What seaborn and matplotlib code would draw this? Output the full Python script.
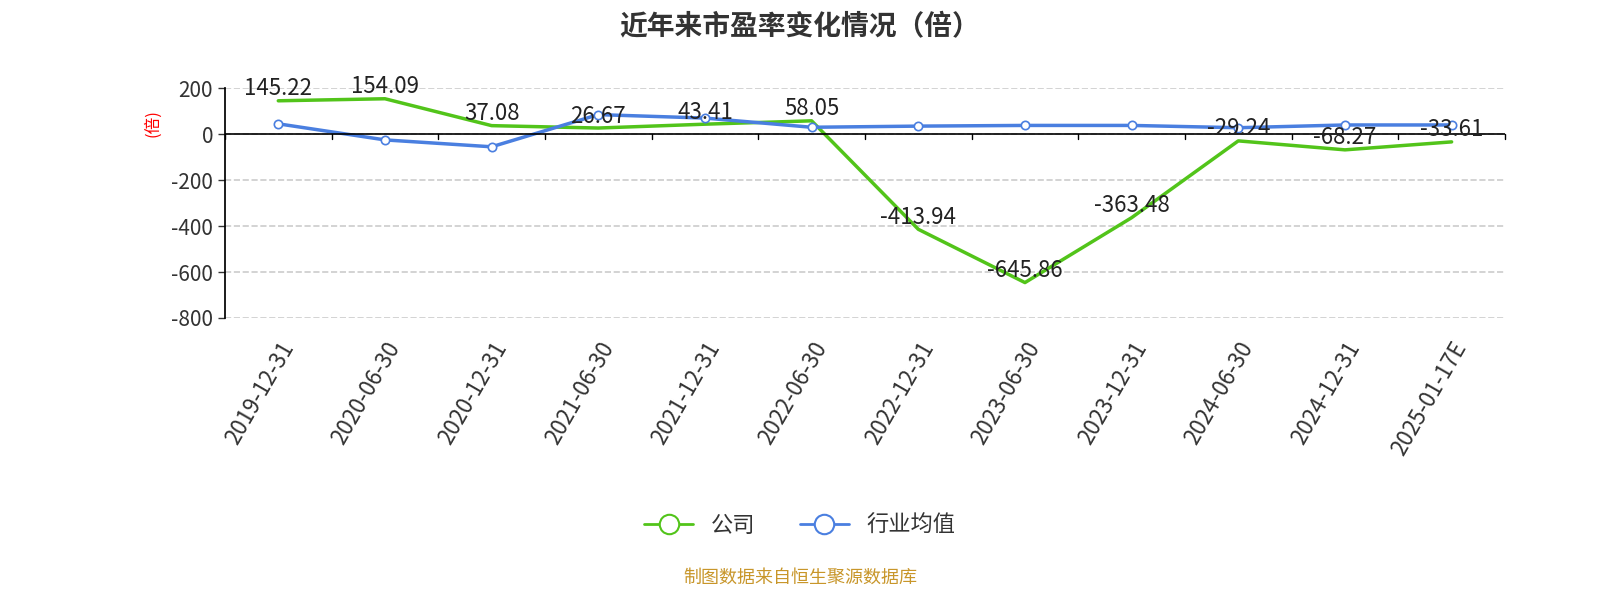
import matplotlib.pyplot as plt
import seaborn as sns
import pandas as pd

dates = ['2019-12-31', '2020-06-30', '2020-12-31', '2021-06-30', '2021-12-31', '2022-06-30',
         '2022-12-31', '2023-06-30', '2023-12-31', '2024-06-30', '2024-12-31', '2025-01-17E']
company = [145.22, 154.09, 37.08, 26.67, 43.41, 58.05, -413.94, -645.86, -363.48, -29.24, -68.27, -33.61]
industry = [45, -25, -55, 85, 70, 30, 35, 38, 38, 28, 40, 40]

sns.set_theme(style='white')
plt.rcParams['font.family'] = ['Noto Sans CJK SC', 'DejaVu Sans']
plt.rcParams['axes.unicode_minus'] = False

df = pd.DataFrame({'x': range(len(dates)), '公司': company, '行业均值': industry})

fig = plt.figure(figsize=(16, 6), dpi=100)
ax = fig.add_axes([0.1406, 0.47, 0.8, 0.383])

green = '#52c41a'
blue = '#4a7fe0'
sns.lineplot(data=df, x='x', y='公司', ax=ax, color=green, linewidth=2.5, legend=False)
sns.lineplot(data=df, x='x', y='行业均值', ax=ax, color=blue, linewidth=2.5, legend=False,
             marker='o', markersize=6, markerfacecolor='white', markeredgecolor=blue, markeredgewidth=1.2)

for i, v in enumerate(company):
    ax.text(i, v + 2, f'{v:.2f}', ha='center', va='bottom', fontsize=16, color='#222222')

ax.set_xlim(-0.5, len(dates) - 0.5)
ax.set_ylim(-800, 200)
ax.set_yticks([200, 0, -200, -400, -600, -800])
ax.tick_params(axis='y', labelsize=15, colors='#333333', left=True, length=5, width=1)
ax.yaxis.grid(True, linestyle='--', color='#cccccc', linewidth=1.2)
ax.set_xlabel('')
ax.set_ylabel('(倍)', color='red', fontsize=12)
ax.yaxis.set_label_coords(-0.05, 0.85)

for s in ['top', 'right', 'bottom']:
    ax.spines[s].set_visible(False)
ax.spines['left'].set_color('black')
ax.axhline(0, color='black', linewidth=1.2)
for b in range(len(dates) + 1):
    ax.plot([b - 0.5, b - 0.5], [0, -22], color='black', linewidth=1, clip_on=False)

ax.set_xticks(range(len(dates)))
ax.set_xticklabels(dates, rotation=60, ha='right', rotation_mode='anchor', fontsize=16, color='#333333')
ax.tick_params(axis='x', bottom=False, pad=8)

handles = [
    plt.Line2D([], [], color=green, linewidth=2, marker='o', markersize=14,
               markerfacecolor='white', markeredgecolor=green, markeredgewidth=1.5),
    plt.Line2D([], [], color=blue, linewidth=2, marker='o', markersize=14,
               markerfacecolor='white', markeredgecolor=blue, markeredgewidth=1.5),
]
fig.legend(handles, ['公司', '行业均值'], loc='center', bbox_to_anchor=(0.5, 0.125), ncol=2,
           frameon=False, fontsize=16, handlelength=2.2, labelcolor='#333333')

fig.text(0.5, 0.955, '近年来市盈率变化情况（倍）', ha='center', va='center', fontsize=20,
         fontweight='bold', color='#333333')
fig.text(0.5, 0.038, '制图数据来自恒生聚源数据库', ha='center', va='center', fontsize=13, color='#c8962a')

fig.savefig('out.png')
